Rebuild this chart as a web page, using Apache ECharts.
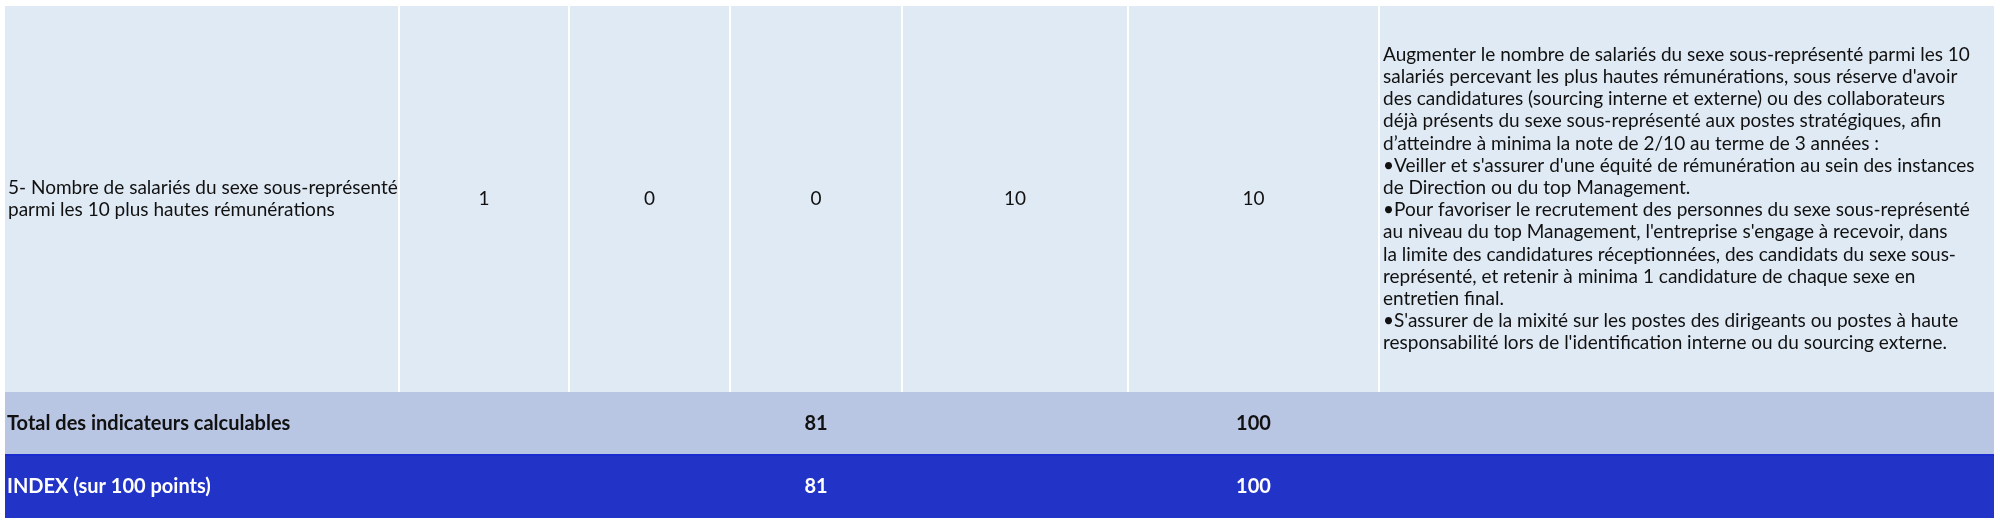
<!DOCTYPE html>
<html><head><meta charset="utf-8">
<script src="https://cdn.jsdelivr.net/npm/echarts@6/dist/echarts.min.js"></script>
<style>html,body{margin:0;padding:0;background:#fff}#c{width:2000px;height:524px}</style>
</head><body><div id="c"></div>
<script>
const rowLabel = ["5- Nombre de salariés du sexe sous-représenté", "parmi les 10 plus hautes rémunérations"];
const rowValues = ["1", "0", "0", "10", "10"];
const actionLines = [
"Augmenter le nombre de salariés du sexe sous-représenté parmi les 10",
"salariés percevant les plus hautes rémunérations, sous réserve d'avoir",
"des candidatures (sourcing interne et externe) ou des collaborateurs",
"déjà présents du sexe sous-représenté aux postes stratégiques, afin",
"d’atteindre à minima la note de 2/10 au terme de 3 années :",
"•Veiller et s'assurer d'une équité de rémunération au sein des instances",
"de Direction ou du top Management.",
"•Pour favoriser le recrutement des personnes du sexe sous-représenté",
"au niveau du top Management, l'entreprise s'engage à recevoir, dans",
"la limite des candidatures réceptionnées, des candidats du sexe sous-",
"représenté, et retenir à minima 1 candidature de chaque sexe en",
"entretien final.",
"•S'assurer de la mixité sur les postes des dirigeants ou postes à haute",
"responsabilité lors de l'identification interne ou du sourcing externe."
];
const totalLabel = "Total des indicateurs calculables";
const totalValues = ["81", "100"];
const indexLabel = "INDEX (sur 100 points)";
const indexValues = ["81", "100"];

const colX = [5, 399, 569, 730, 902, 1128, 1379, 1994];
const rowY = [6, 392, 455, 518];
const FONT = "Lato, 'Noto Sans', sans-serif";
const g = [];
g.push({type:'rect', shape:{x:colX[0], y:rowY[0], width:colX[7]-colX[0], height:rowY[1]-rowY[0]}, style:{fill:'#e0eaf4'}});
g.push({type:'rect', shape:{x:colX[0], y:rowY[1], width:colX[7]-colX[0], height:rowY[2]-rowY[1]}, style:{fill:'#b8c5e3'}});
g.push({type:'rect', shape:{x:colX[0], y:rowY[2], width:colX[7]-colX[0], height:rowY[3]-rowY[2]}, style:{fill:'#2233c8'}});
g.push({type:'line', shape:{x1:colX[0], y1:rowY[2], x2:colX[7], y2:rowY[2]}, style:{stroke:'#1a2bd0', lineWidth:2}});
for (let i = 1; i < 7; i++) g.push({type:'line', shape:{x1:colX[i], y1:rowY[0], x2:colX[i], y2:rowY[1]}, style:{stroke:'#ffffff', lineWidth:2}});
const cy1 = (rowY[0]+rowY[1])/2;
g.push({type:'text', style:{x:8, y:cy1, text:rowLabel.join('\n'), font:'19px '+FONT, fill:'#111', lineHeight:22, verticalAlign:'middle'}});
rowValues.forEach((v,i)=>{
  g.push({type:'text', style:{x:(colX[i+1]+colX[i+2])/2, y:cy1, text:v, font:'19px '+FONT, fill:'#111', align:'center', verticalAlign:'middle'}});
});
g.push({type:'text', style:{x:1383, y:cy1, text:actionLines.join('\n'), font:'19px '+FONT, fill:'#111', lineHeight:22.2, verticalAlign:'middle'}});
const cy2 = (rowY[1]+rowY[2])/2, cy3 = (rowY[2]+rowY[3])/2;
const valCols = [3, 5];
g.push({type:'text', style:{x:7, y:cy2, text:totalLabel, font:'bold 20px '+FONT, fill:'#111', verticalAlign:'middle'}});
g.push({type:'text', style:{x:7, y:cy3, text:indexLabel, font:'bold 20px '+FONT, fill:'#fff', verticalAlign:'middle'}});
totalValues.forEach((v,i)=>{const c=valCols[i];
  g.push({type:'text', style:{x:(colX[c]+colX[c+1])/2, y:cy2, text:v, font:'bold 20px '+FONT, fill:'#111', align:'center', verticalAlign:'middle'}});});
indexValues.forEach((v,i)=>{const c=valCols[i];
  g.push({type:'text', style:{x:(colX[c]+colX[c+1])/2, y:cy3, text:v, font:'bold 20px '+FONT, fill:'#fff', align:'center', verticalAlign:'middle'}});});
const chart = echarts.init(document.getElementById('c'));
chart.setOption({animation:false, graphic:{elements:g}});
</script></body></html>
